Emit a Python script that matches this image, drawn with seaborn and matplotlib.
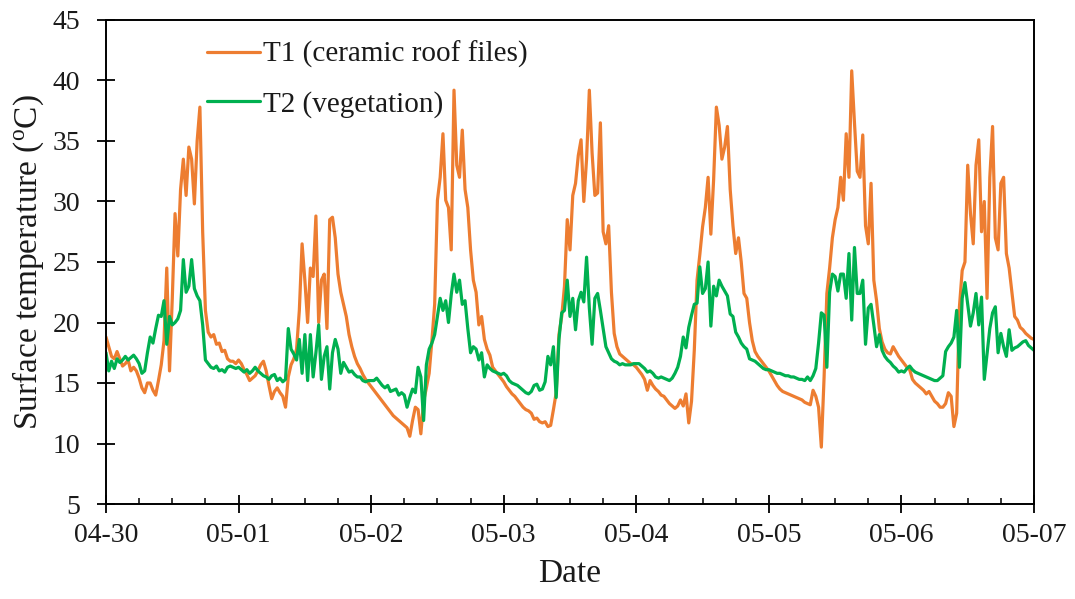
import numpy as np
import pandas as pd
import matplotlib
matplotlib.use("Agg")
import matplotlib.pyplot as plt
import matplotlib.dates as mdates
from matplotlib.lines import Line2D
import seaborn as sns

# ---------------- data (30-minute readings, one list per day) ----------------
days = ["2019-04-30", "2019-05-01", "2019-05-02", "2019-05-03",
        "2019-05-04", "2019-05-05", "2019-05-06"]

t1_d0 = [18.8, 18.0, 17.2, 17.0, 17.6, 17.0, 16.4, 16.6, 16.9, 16.0,
         16.3, 16.0, 15.4, 14.6, 14.2, 15.0, 15.0, 14.4, 14.0, 15.2,
         16.5, 18.5, 24.5, 16.0, 22.0, 29.0, 25.5, 31.0, 33.5, 30.5,
         34.5, 33.5, 29.8, 35.0, 37.8, 27.5, 21.0, 19.2, 18.8, 19.0,
         18.2, 18.3, 17.6, 17.7, 17.0, 16.8, 16.8, 16.6]
t1_d1 = [16.9, 16.6, 16.1, 15.7, 15.2, 15.4, 15.6, 16.0, 16.5, 16.8,
         16.0, 14.8, 13.7, 14.3, 14.6, 14.2, 13.9, 13.0, 15.5, 16.5,
         17.0, 17.8, 21.0, 26.5, 23.5, 20.0, 24.5, 23.8, 28.8, 20.0,
         23.5, 24.0, 19.5, 28.5, 28.7, 27.0, 24.0, 22.5, 21.5, 20.5,
         19.0, 18.0, 17.2, 16.6, 16.2, 15.7, 15.3, 15.0]
t1_d2 = [14.7, 14.4, 14.1, 13.8, 13.5, 13.2, 12.9, 12.6, 12.3, 12.1,
         11.9, 11.7, 11.5, 11.3, 10.6, 11.9, 13.0, 12.8, 10.8, 13.5,
         14.6, 15.8, 18.5, 21.5, 30.1, 32.0, 35.6, 30.1, 29.5, 26.0,
         39.2, 33.0, 32.0, 35.9, 31.0, 29.5, 26.0, 23.5, 22.5, 19.8,
         20.5, 18.6, 17.8, 17.3, 16.3, 16.0, 15.7, 15.4]
t1_d3 = [15.1, 14.7, 14.4, 14.1, 13.9, 13.6, 13.3, 13.0, 12.8, 12.7,
         12.5, 12.0, 12.1, 11.8, 11.7, 11.8, 11.4, 11.5, 12.8, 14.2,
         19.0, 20.5, 23.0, 28.5, 26.0, 30.5, 31.5, 33.8, 35.1, 30.0,
         33.5, 39.2, 34.0, 30.5, 30.7, 36.5, 27.5, 26.5, 28.0, 22.5,
         19.1, 18.0, 17.4, 17.2, 17.0, 16.8, 16.6, 16.5]
t1_d4 = [16.3, 16.0, 15.7, 15.3, 14.4, 15.2, 14.8, 14.5, 14.3, 14.0,
         13.9, 13.6, 13.3, 13.1, 12.9, 13.1, 13.6, 13.1, 14.1, 11.7,
         13.5, 17.7, 23.5, 25.6, 27.9, 29.5, 32.0, 27.3, 31.8, 37.8,
         36.3, 33.5, 34.5, 36.2, 31.0, 28.0, 25.7, 27.0, 25.0, 22.4,
         22.0, 20.0, 18.5, 17.6, 17.2, 16.9, 16.6, 16.3]
t1_d5 = [16.0, 15.6, 15.2, 14.8, 14.5, 14.3, 14.2, 14.1, 14.0, 13.9,
         13.8, 13.7, 13.6, 13.4, 13.3, 13.2, 14.4, 13.9, 13.0, 9.7,
         15.5, 22.4, 24.5, 27.0, 28.5, 29.5, 32.0, 30.1, 35.6, 32.0,
         40.8, 36.5, 32.5, 32.0, 35.5, 28.0, 26.5, 31.5, 23.5, 21.8,
         19.5, 18.4, 17.8, 17.5, 17.4, 18.0, 17.6, 17.2]
t1_d6 = [16.9, 16.6, 16.3, 16.1, 15.3, 15.0, 14.8, 14.6, 14.4, 14.1,
         14.3, 13.9, 13.5, 13.3, 13.0, 13.0, 13.3, 14.2, 13.9, 11.4,
         12.5, 21.3, 24.3, 25.0, 33.0, 29.0, 26.5, 33.0, 35.1, 27.5,
         30.0, 22.0, 32.0, 36.2, 27.0, 26.0, 31.5, 32.0, 25.7, 24.5,
         22.5, 20.5, 20.2, 19.6, 19.4, 19.1, 18.9, 18.7, 18.6]

t2_d0 = [17.5, 16.0, 16.8, 16.2, 17.0, 16.7, 16.9, 17.2, 16.9, 17.1,
         17.3, 17.0, 16.6, 15.8, 16.0, 17.5, 18.8, 18.3, 19.5, 20.6,
         20.5, 21.8, 18.2, 20.5, 19.8, 20.0, 20.3, 21.0, 25.2, 22.5,
         23.0, 25.2, 22.8, 22.2, 21.8, 19.8, 16.9, 16.6, 16.3, 16.2,
         16.4, 16.0, 16.1, 15.9, 16.3, 16.4, 16.3, 16.2]
t2_d1 = [16.3, 16.1, 15.9, 16.1, 15.8, 16.0, 16.3, 16.0, 15.8, 15.6,
         15.5, 15.3, 15.6, 15.7, 15.2, 15.4, 15.1, 15.3, 19.5, 17.8,
         17.4, 16.9, 18.6, 15.8, 19.0, 15.2, 19.0, 15.5, 17.5, 19.8,
         15.3, 17.2, 18.0, 14.5, 17.5, 18.6, 17.8, 15.8, 16.7, 16.3,
         15.9, 16.0, 15.7, 15.5, 15.5, 15.2, 15.1, 15.2]
t2_d2 = [15.2, 15.2, 15.4, 15.1, 14.8, 14.6, 14.8, 14.3, 14.4, 14.5,
         14.0, 14.2, 14.0, 13.0, 13.8, 14.5, 14.2, 16.3, 15.5, 11.9,
         16.5, 17.8, 18.3, 19.0, 20.5, 22.0, 21.0, 21.8, 20.0, 22.3,
         24.0, 22.5, 23.5, 21.5, 21.8, 19.5, 17.5, 18.0, 17.8, 16.9,
         17.5, 15.5, 16.5, 16.2, 16.0, 15.9, 15.8, 15.7]
t2_d3 = [15.8, 15.6, 15.2, 15.0, 14.9, 14.8, 14.6, 14.4, 14.2, 14.1,
         14.3, 14.8, 14.9, 14.4, 14.5, 15.1, 17.2, 16.5, 18.0, 13.8,
         18.6, 20.8, 21.0, 23.5, 20.5, 22.0, 19.4, 21.8, 22.5, 21.7,
         25.4, 21.2, 18.2, 22.0, 22.4, 21.0, 19.5, 18.0, 17.5, 17.0,
         16.8, 16.7, 16.5, 16.6, 16.5, 16.5, 16.5, 16.6]
t2_d4 = [16.6, 16.6, 16.4, 16.2, 15.9, 16.0, 15.8, 15.5, 15.4, 15.5,
         15.4, 15.3, 15.2, 15.4, 15.8, 16.3, 17.2, 18.8, 17.9, 19.6,
         20.6, 21.5, 21.6, 24.6, 22.4, 22.8, 25.0, 19.7, 23.0, 22.2,
         23.5, 23.0, 22.6, 22.2, 20.7, 20.5, 19.2, 18.8, 18.3, 18.0,
         17.8, 17.0, 16.9, 16.8, 16.6, 16.4, 16.2, 16.1]
t2_d5 = [16.1, 16.0, 15.9, 15.8, 15.8, 15.7, 15.6, 15.6, 15.5, 15.5,
         15.4, 15.3, 15.3, 15.2, 15.5, 15.2, 15.6, 16.2, 18.3, 20.8,
         20.6, 16.3, 22.5, 24.0, 23.8, 22.6, 24.0, 24.0, 22.0, 25.7,
         20.2, 26.2, 22.4, 22.4, 23.5, 18.2, 21.2, 21.5, 19.8, 18.0,
         19.0, 17.7, 17.2, 16.9, 16.7, 16.4, 16.2, 15.9]
t2_d6 = [16.0, 15.9, 16.2, 16.4, 16.1, 15.9, 15.8, 15.7, 15.6, 15.5,
         15.4, 15.3, 15.2, 15.2, 15.4, 15.6, 17.6, 18.0, 18.3, 18.8,
         21.0, 16.3, 22.0, 23.3, 21.5, 19.7, 20.8, 22.4, 19.8, 22.1,
         15.3, 17.4, 19.5, 20.8, 21.3, 17.5, 19.1, 18.0, 17.2, 19.4,
         17.7, 17.9, 18.0, 18.2, 18.4, 18.5, 18.1, 17.9, 17.7]

series_names = ["T1 (ceramic roof files)", "T2 (vegetation)"]
series_days = [
    [t1_d0, t1_d1, t1_d2, t1_d3, t1_d4, t1_d5, t1_d6],
    [t2_d0, t2_d1, t2_d2, t2_d3, t2_d4, t2_d5, t2_d6],
]
colors = {"T1 (ceramic roof files)": "#ED7D31", "T2 (vegetation)": "#00B050"}
y_ticks = [5, 10, 15, 20, 25, 30, 35, 40, 45]

# ---------------- build long-form table ----------------
rows = []
for name, dlists in zip(series_names, series_days):
    for day, vals in zip(days, dlists):
        start = pd.Timestamp(day)
        for i, v in enumerate(vals):
            rows.append((start + pd.Timedelta(minutes=30 * i), v, name))
df = pd.DataFrame(rows, columns=["time", "temp", "series"])

# ---------------- style ----------------
sns.set_theme(style="ticks")
plt.rcParams["font.family"] = ["Liberation Serif", "DejaVu Serif"]
plt.rcParams["mathtext.fontset"] = "custom"
plt.rcParams["mathtext.rm"] = "Liberation Serif"
plt.rcParams["mathtext.it"] = "Liberation Serif:italic"
txt = "#1a1a1a"

fig = plt.figure(figsize=(10.75, 5.99), dpi=100)
ax = fig.add_axes([106 / 1075, 1 - 504 / 599, 928 / 1075, 484 / 599])

for name in series_names:
    sns.lineplot(data=df[df["series"] == name], x="time", y="temp",
                 color=colors[name], linewidth=2.3, estimator=None,
                 ax=ax, legend=False)

ax.set_xlim(pd.Timestamp("2019-04-30"), pd.Timestamp("2019-05-07"))
ax.set_ylim(5, 45)
ax.set_yticks(y_ticks)
ax.xaxis.set_major_locator(mdates.DayLocator())
ax.xaxis.set_major_formatter(mdates.DateFormatter("%m-%d"))
ax.xaxis.set_minor_locator(mdates.HourLocator(byhour=[6, 12, 18]))

for sp in ax.spines.values():
    sp.set_visible(True)
    sp.set_linewidth(1.4)
    sp.set_color("black")

ax.tick_params(axis="both", which="major", direction="inout", length=13,
               width=1.3, color="black", labelsize=20, labelcolor=txt)
ax.tick_params(axis="y", which="major", pad=12)
ax.tick_params(axis="x", which="major", pad=7)
ax.tick_params(axis="x", which="minor", direction="in", length=4.5,
               width=1.1, color="black")
ax.tick_params(top=False, right=False)

ax.set_xlabel("Date", fontsize=24, color=txt, labelpad=8)
ax.set_ylabel("Surface temperature ($^{\\rm o}$C)", fontsize=24,
              color=txt, labelpad=5)

handles = [Line2D([], [], color=colors[n], linewidth=2.3) for n in series_names]
ax.legend(handles, series_names, loc="upper left",
          bbox_to_anchor=(0.109, 0.957), frameon=False, fontsize=21,
          handlelength=1.8, handletextpad=0.12, labelspacing=0.78,
          borderaxespad=0, borderpad=0, labelcolor=txt)

fig.savefig("out.png", dpi=100)
